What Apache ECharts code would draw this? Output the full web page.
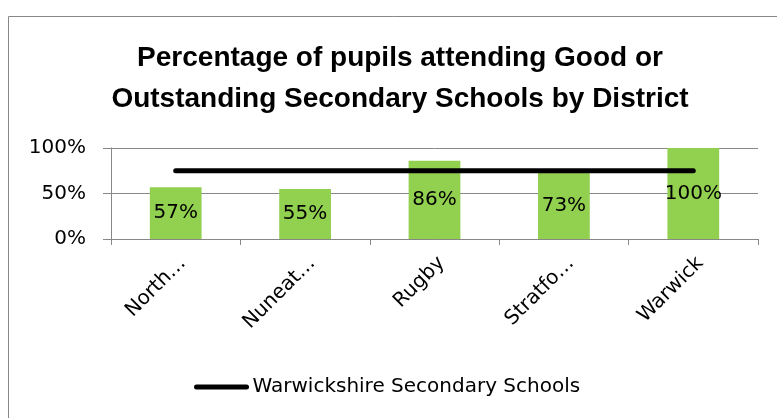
<!DOCTYPE html>
<html><head><meta charset="utf-8">
<script src="https://cdn.jsdelivr.net/npm/echarts@6/dist/echarts.min.js"></script>
<style>html,body{margin:0;padding:0;background:#fff}#c{width:777px;height:418px}</style>
</head><body><div id="c"></div>
<script>
const categories = ["North…", "Nuneat…", "Rugby", "Stratfo…", "Warwick"];
const districtValues = [57, 55, 86, 73, 100];
const countyValues = [75, 75, 75, 75, 75];
const yTicks = [0, 50, 100];
const titleLines = ["Percentage of pupils attending Good or", "Outstanding Secondary Schools by District"];
const lineName = "Warwickshire Secondary Schools";

const chart = echarts.init(document.getElementById('c'));
const FONT = 'DejaVu Sans';
const TFONT = 'Liberation Sans';
chart.setOption({
  animation: false,
  graphic: [{type:'rect', shape:{x:8.5,y:16.5,width:900,height:600}, style:{fill:'none', stroke:'#888', lineWidth:1}, z:-10}],
  title: {
    text: titleLines.join('\n'), left: 395, top: 33, textAlign: 'center',
    textStyle: {fontFamily: TFONT, fontWeight: 'bold', fontSize: 28, lineHeight: 41, color: '#000'}
  },
  legend: {
    data: [{name: lineName, icon: 'path://M2,0 L52,0 A2.5,2.5 0 0 1 52,5 L2,5 A2.5,2.5 0 0 1 2,0 Z'}],
    left: 189, top: 372, itemWidth: 56, itemHeight: 5, itemGap: 4,
    textStyle: {fontFamily: FONT, fontSize: 20, color: '#000', padding: [0,0,0,-2]}
  },
  grid: {left: 111, right: 19, top: 148, bottom: 179, containLabel: false},
  xAxis: {
    type: 'category', data: categories,
    axisLine: {lineStyle: {color: '#888'}},
    axisTick: {show: true, length: 6, lineStyle: {color: '#888'}},
    axisLabel: {rotate: 45, fontFamily: FONT, fontSize: 20, color: '#000', margin: 14, interval: 0, verticalAlign: 'top'}
  },
  yAxis: {
    type: 'value', min: yTicks[0], max: yTicks[yTicks.length-1], interval: yTicks[1]-yTicks[0],
    axisLine: {show: true, lineStyle: {color: '#888'}},
    axisTick: {show: true, length: 8, lineStyle: {color: '#888'}},
    splitLine: {lineStyle: {color: '#888'}},
    axisLabel: {fontFamily: FONT, fontSize: 20, color: '#000', margin: 25, formatter: v => v + '%'}
  },
  series: [
    {
      type: 'bar', name: 'District', data: districtValues, barWidth: '40%',
      itemStyle: {color: '#92D050'},
      label: {show: true, position: 'inside', formatter: p => p.value + '%', fontFamily: FONT, fontSize: 20, color: '#000'}
    },
    {
      type: 'line', name: lineName, data: countyValues, symbol: 'none',
      lineStyle: {color: '#000', width: 5, cap: 'round'}, itemStyle: {color: '#000'}, z: 5
    }
  ]
});
</script></body></html>
